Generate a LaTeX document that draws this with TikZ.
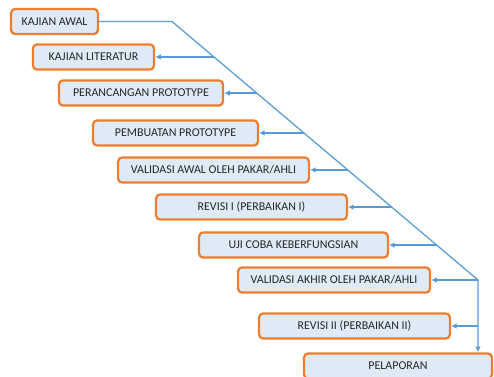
\documentclass[tikz,border=0pt]{standalone}
\usepackage{fontspec}
\setmainfont{Carlito}
\usetikzlibrary{arrows.meta,calc}
\definecolor{garisbiru}{HTML}{5B9BD5}
\definecolor{oranye}{HTML}{ED7D31}
\definecolor{isibiru}{HTML}{DEEBF7}

\begin{document}
\begin{tikzpicture}[x=0.025cm,y=-0.025cm,
    tahap/.style={draw=oranye,fill=isibiru,line width=1.6pt,rounded corners=3pt,
        minimum height=0.63cm,inner sep=2pt,text=black!85,
        font=\fontsize{8.5}{10}\selectfont},
    panah/.style={garisbiru,line width=0.9pt,-{Latex[length=4pt,width=4pt]}}]
    \useasboundingbox (0,0) rectangle (494,376);
    % tahapan
    \node[tahap,minimum width=2.17cm] (awal) at (54.5,21.5) {KAJIAN AWAL};
    \node[tahap,minimum width=3.03cm] (literatur) at (93.5,57) {KAJIAN LITERATUR};
    \node[tahap,minimum width=4.10cm] (rancang) at (141,93) {PERANCANGAN PROTOTYPE};
    \node[tahap,minimum width=4.12cm] (buat) at (175.5,133) {PEMBUATAN PROTOTYPE};
    \node[tahap,minimum width=4.77cm] (validawal) at (213.5,170) {VALIDASI AWAL OLEH PAKAR/AHLI};
    \node[tahap,minimum width=4.77cm] (revisi1) at (251.5,207) {REVISI I (PERBAIKAN I)};
    \node[tahap,minimum width=4.72cm] (ujicoba) at (293.5,245) {UJI COBA KEBERFUNGSIAN};
    \node[tahap,minimum width=4.80cm] (validakhir) at (334,280) {VALIDASI AKHIR OLEH PAKAR/AHLI};
    \node[tahap,minimum width=4.77cm] (revisi2) at (354.5,326) {REVISI II (PERBAIKAN II)};
    \node[tahap,minimum width=4.70cm] (lapor) at (398,366) {PELAPORAN};
    % garis utama
    \coordinate (tekuk) at (172,21.5);
    \coordinate (sudut) at (478,280);
    \draw[panah] (awal.east) -- (tekuk) -- (sudut) -- (sudut |- lapor.north);
    \foreach \n/\p in {literatur/0.137,rancang/0.277,buat/0.431,validawal/0.574,
                       revisi1/0.718,ujicoba/0.865,validakhir/1}
    {
        \coordinate (c\n) at ($(tekuk)!\p!(sudut)$);
        \draw[panah] (c\n) -- (c\n -| \n.east);
    }
    \coordinate (crevisi2) at (sudut |- revisi2);
    \draw[panah] (crevisi2) -- (revisi2.east);
\end{tikzpicture}
\end{document}
